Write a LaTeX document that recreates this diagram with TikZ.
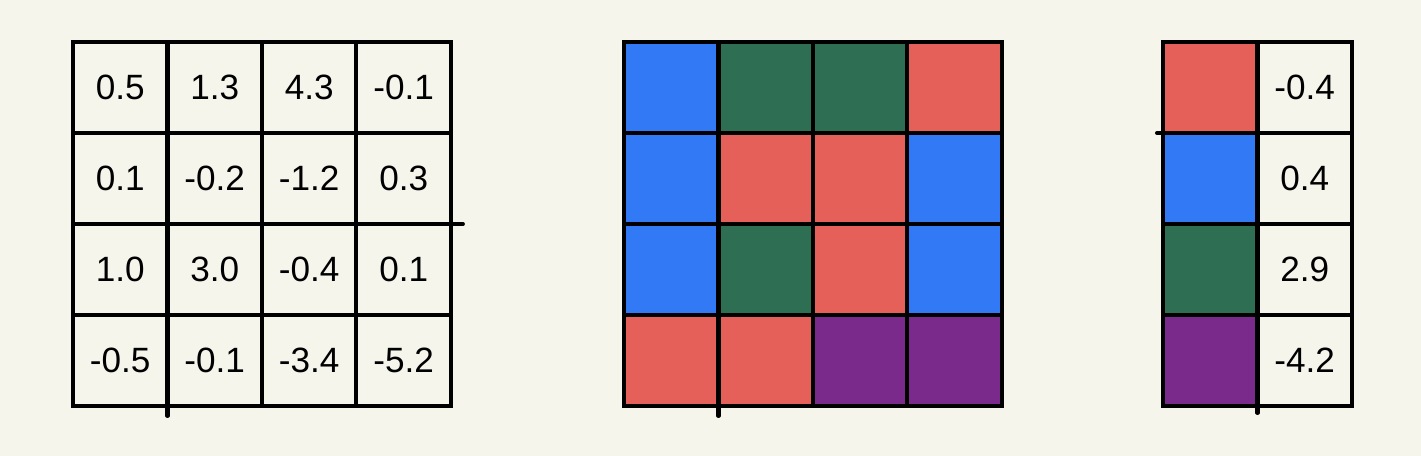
\documentclass[tikz,border=0pt]{standalone}
\usepackage{fontspec}
\setmainfont{Liberation Sans}
\usetikzlibrary{positioning}
\definecolor{paper}  {RGB}{245,245,235}
\definecolor{cblue}  {RGB}{ 50,121,245}
\definecolor{cgreen} {RGB}{ 46,110, 82}
\definecolor{cred}   {RGB}{228, 96, 88}
\definecolor{cpurple}{RGB}{122, 42,138}
\tikzset{
  cell/.style={draw=black,line width=2.3pt,outer sep=0pt,inner sep=0pt,
               minimum width=1.89cm,minimum height=1.82cm,
               font=\fontsize{20}{24}\selectfont},
  bluecell/.style={cell,fill=cblue},
  greencell/.style={cell,fill=cgreen},
  redcell/.style={cell,fill=cred},
  purplecell/.style={cell,fill=cpurple},
  pen/.style={line width=2.3pt,line cap=round},
}
\begin{document}
\begin{tikzpicture}[x=0.02cm,y=-0.02cm]
  \fill[paper] (0,0) rectangle (1421,456);

  % Value grid
  \node[cell,anchor=north west] (v11) at (73,42) {0.5};
  \node[cell,right=0pt of v11] (v12) {1.3};
  \node[cell,right=0pt of v12] (v13) {4.3};
  \node[cell,right=0pt of v13] (v14) {-0.1};
  \node[cell,below=0pt of v11] (v21) {0.1};
  \node[cell,right=0pt of v21] (v22) {-0.2};
  \node[cell,right=0pt of v22] (v23) {-1.2};
  \node[cell,right=0pt of v23] (v24) {0.3};
  \node[cell,below=0pt of v21] (v31) {1.0};
  \node[cell,right=0pt of v31] (v32) {3.0};
  \node[cell,right=0pt of v32] (v33) {-0.4};
  \node[cell,right=0pt of v33] (v34) {0.1};
  \node[cell,below=0pt of v31] (v41) {-0.5};
  \node[cell,right=0pt of v41] (v42) {-0.1};
  \node[cell,right=0pt of v42] (v43) {-3.4};
  \node[cell,right=0pt of v43] (v44) {-5.2};

  % Colour grid
  \node[bluecell,anchor=north west] (k11) at (624,42) {};
  \node[greencell,right=0pt of k11] (k12) {};
  \node[greencell,right=0pt of k12] (k13) {};
  \node[redcell,right=0pt of k13]   (k14) {};
  \node[bluecell,below=0pt of k11]  (k21) {};
  \node[redcell,right=0pt of k21]   (k22) {};
  \node[redcell,right=0pt of k22]   (k23) {};
  \node[bluecell,right=0pt of k23]  (k24) {};
  \node[bluecell,below=0pt of k21]  (k31) {};
  \node[greencell,right=0pt of k31] (k32) {};
  \node[redcell,right=0pt of k32]   (k33) {};
  \node[bluecell,right=0pt of k33]  (k34) {};
  \node[redcell,below=0pt of k31]   (k41) {};
  \node[redcell,right=0pt of k41]   (k42) {};
  \node[purplecell,right=0pt of k42](k43) {};
  \node[purplecell,right=0pt of k43](k44) {};

  % Legend
  \node[redcell,anchor=north west] (l1) at (1163,42) {};
  \node[cell,right=0pt of l1]       (n1) {-0.4};
  \node[bluecell,below=0pt of l1]   (l2) {};
  \node[cell,right=0pt of l2]       (n2) {0.4};
  \node[greencell,below=0pt of l2]  (l3) {};
  \node[cell,right=0pt of l3]       (n3) {2.9};
  \node[purplecell,below=0pt of l3] (l4) {};
  \node[cell,right=0pt of l4]       (n4) {-4.2};

  % Pen overshoots
  \draw[pen] (v24.south east) -- ++(12,0);
  \draw[pen] (v41.south east) -- ++(0,10);
  \draw[pen] (k41.south east) -- ++(0,10);
  \draw[pen] (l4.south east)  -- ++(0,7);
  \draw[pen] (l1.south west)  -- ++(-6,0);
\end{tikzpicture}
\end{document}
